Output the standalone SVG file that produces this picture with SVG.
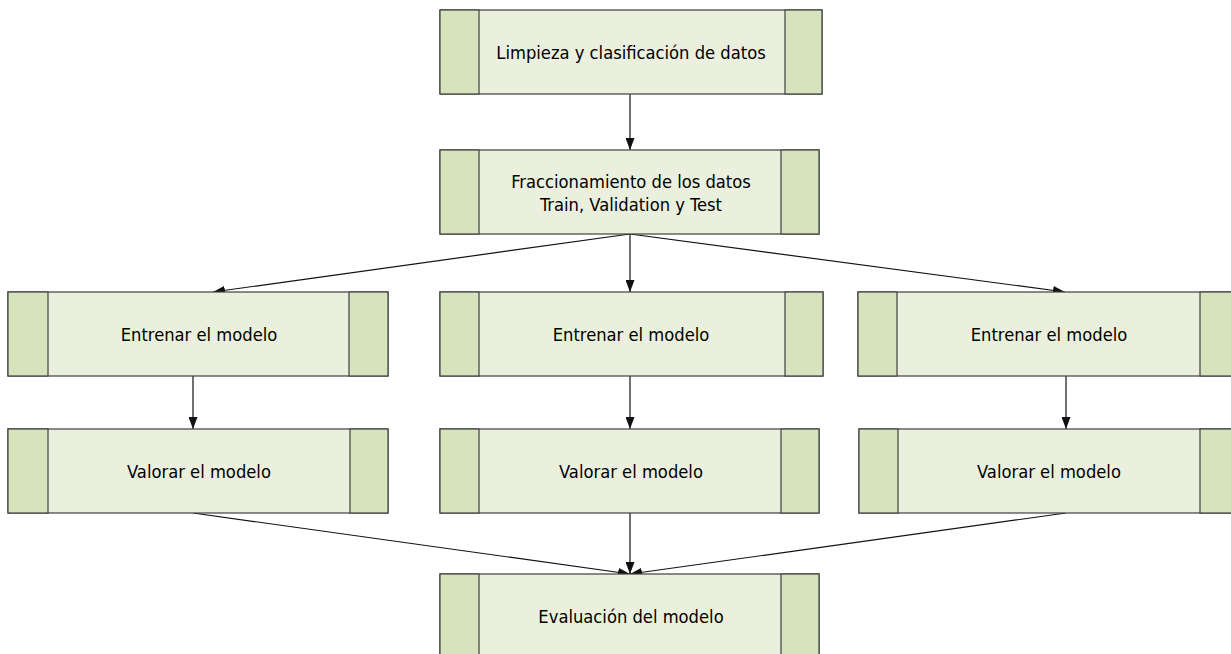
<svg xmlns="http://www.w3.org/2000/svg" width="1231" height="654" viewBox="0 0 1231 654">
<style>
.box{fill:#EAF0DD;stroke:#404040;stroke-width:1.2}
.bar{fill:#D7E3BD;stroke:#404040;stroke-width:1.2}
.t{font-family:"DejaVu Sans Condensed","DejaVu Sans",sans-serif;font-size:18.2px;fill:#000;text-anchor:middle;dominant-baseline:central}
.e{fill:none;stroke:#111;stroke-width:1.2;marker-end:url(#a)}
</style>
<defs>
<marker id="a" viewBox="0 0 12 9" refX="12" refY="4.5" markerWidth="12" markerHeight="9" markerUnits="userSpaceOnUse" orient="auto">
<path d="M0,0 L12,4.5 L0,9 z" fill="#111"/>
</marker>
</defs>
<rect width="1231" height="654" fill="#fff"/>
<g id="connectors">
<line class="e" x1="630" y1="94" x2="630" y2="150"/>
<line class="e" x1="630" y1="234" x2="213" y2="292"/>
<line class="e" x1="630" y1="234" x2="630" y2="292"/>
<line class="e" x1="630" y1="234" x2="1065" y2="292"/>
<line class="e" x1="193" y1="376" x2="193" y2="429"/>
<line class="e" x1="630" y1="376" x2="630" y2="429"/>
<line class="e" x1="1066" y1="376" x2="1066" y2="429"/>
<line class="e" x1="193" y1="513" x2="630" y2="574"/>
<line class="e" x1="630" y1="513" x2="630" y2="574"/>
<line class="e" x1="1066" y1="513" x2="630" y2="574"/>
</g>
<g id="n1">
<rect class="box" x="440" y="10" width="382" height="84"/>
<rect class="bar" x="440" y="10" width="39" height="84"/>
<rect class="bar" x="785" y="10" width="37" height="84"/>
<text class="t" x="631" y="52">Limpieza y clasificación de datos</text>
</g>
<g id="n2">
<rect class="box" x="440" y="150" width="379" height="84"/>
<rect class="bar" x="440" y="150" width="39" height="84"/>
<rect class="bar" x="781" y="150" width="38" height="84"/>
<text class="t" x="631" y="181">Fraccionamiento de los datos</text>
<text class="t" x="631" y="204">Train, Validation y Test</text>
</g>
<g id="n3">
<rect class="box" x="8" y="292" width="380" height="84"/>
<rect class="bar" x="8" y="292" width="40" height="84"/>
<rect class="bar" x="349" y="292" width="39" height="84"/>
<text class="t" x="199" y="334">Entrenar el modelo</text>
</g>
<g id="n4">
<rect class="box" x="440" y="292" width="383" height="84"/>
<rect class="bar" x="440" y="292" width="39" height="84"/>
<rect class="bar" x="785" y="292" width="38" height="84"/>
<text class="t" x="631" y="334">Entrenar el modelo</text>
</g>
<g id="n5">
<rect class="box" x="858" y="292" width="383" height="84"/>
<rect class="bar" x="858" y="292" width="39" height="84"/>
<rect class="bar" x="1200" y="292" width="41" height="84"/>
<text class="t" x="1049" y="334">Entrenar el modelo</text>
</g>
<g id="n6">
<rect class="box" x="8" y="429" width="380" height="84"/>
<rect class="bar" x="8" y="429" width="40" height="84"/>
<rect class="bar" x="350" y="429" width="38" height="84"/>
<text class="t" x="199" y="471">Valorar el modelo</text>
</g>
<g id="n7">
<rect class="box" x="440" y="429" width="379" height="84"/>
<rect class="bar" x="440" y="429" width="39" height="84"/>
<rect class="bar" x="781" y="429" width="38" height="84"/>
<text class="t" x="631" y="471">Valorar el modelo</text>
</g>
<g id="n8">
<rect class="box" x="859" y="429" width="380" height="84"/>
<rect class="bar" x="859" y="429" width="39" height="84"/>
<rect class="bar" x="1200" y="429" width="39" height="84"/>
<text class="t" x="1049" y="471">Valorar el modelo</text>
</g>
<g id="n9">
<rect class="box" x="440" y="574" width="379" height="84"/>
<rect class="bar" x="440" y="574" width="39" height="84"/>
<rect class="bar" x="781" y="574" width="38" height="84"/>
<text class="t" x="631" y="616">Evaluación del modelo</text>
</g>
</svg>
